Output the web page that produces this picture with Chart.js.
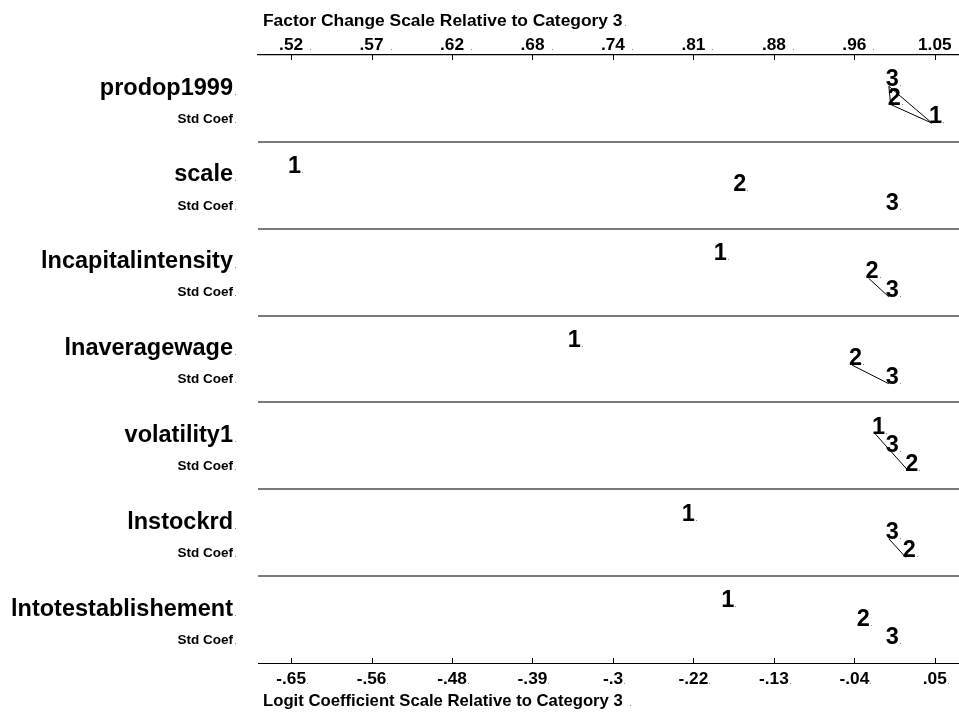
<!DOCTYPE html>
<html>
<head>
<meta charset="utf-8">
<script src="https://cdn.jsdelivr.net/npm/chart.js@4/dist/chart.umd.min.js"></script>
<style>
  html, body { margin: 0; padding: 0; background: #ffffff; }
  #wrap { width: 959px; height: 713px; }
</style>
</head>
<body>
<div id="wrap"><canvas id="chart" width="959" height="713"></canvas></div>
<script>
// Multinomial logit: standardized coefficients of each outcome relative to category 3
const variables = ['prodop1999', 'scale', 'lncapitalintensity', 'lnaveragewage',
                   'volatility1', 'lnstockrd', 'lntotestablishement'];
const categoryNames = ['1', '2', '3'];
const coefCat1 = [0.047, -0.650, -0.187, -0.346, -0.015, -0.222, -0.179];
const coefCat2 = [0.002, -0.166, -0.022, -0.040, 0.021, 0.0185, -0.0315];
const coefCat3 = [0, 0, 0, 0, 0, 0, 0];
// pairs of categories that are joined by a line (not significantly different)
const linkedPairs = [
  [['3', '1'], ['2', '1'], ['3', '2']],
  [],
  [['2', '3']],
  [['2', '3']],
  [['1', '2']],
  [['3', '2']],
  []
];
const logitTicks = [-0.65, -0.5625, -0.475, -0.3875, -0.3, -0.2125, -0.125, -0.0375, 0.05];
const logitTickLabels = ['-.65', '-.56', '-.48', '-.39', '-.3', '-.22', '-.13', '-.04', '.05'];
const factorTickLabels = ['.52', '.57', '.62', '.68', '.74', '.81', '.88', '.96', '1.05'];
const topTitle = 'Factor Change Scale Relative to Category 3';
const bottomTitle = 'Logit Coefficient Scale Relative to Category 3';
const rowSubLabel = 'Std Coef';

const coefs = [coefCat1, coefCat2, coefCat3];
const FONT = '"Liberation Sans", Arial, Helvetica, sans-serif';
// vertical slots inside a variable's band, ordered by coefficient value
const SLOT = [0.36, 0.57, 0.785];

function slotOf(cat, row) {
  const vals = coefs.map(c => c[row]);
  const rank = vals.filter((v, k) => v < vals[cat] || (v === vals[cat] && k > cat)).length;
  return SLOT[rank];
}

const datasets = [];
categoryNames.forEach((name, c) => {
  datasets.push({
    label: name,
    data: variables.map((v, i) => ({ x: coefs[c][i], y: i + slotOf(c, i) })),
    pointRadius: 0,
    pointHoverRadius: 0,
    showLine: false,
    glyph: name
  });
});
linkedPairs.forEach((pairs, i) => {
  pairs.forEach(([a, b]) => {
    const ca = categoryNames.indexOf(a), cb = categoryNames.indexOf(b);
    datasets.push({
      label: 'link',
      data: [
        { x: coefs[ca][i], y: i + slotOf(ca, i) },
        { x: coefs[cb][i], y: i + slotOf(cb, i) }
      ],
      showLine: true,
      borderColor: '#000000',
      borderWidth: 1,
      pointRadius: 0,
      pointHoverRadius: 0
    });
  });
});

function dotAfter(ctx, x, y) {
  ctx.save();
  ctx.fillStyle = '#8a8a8a';
  ctx.fillRect(Math.round(x), Math.round(y) - 1, 1, 1);
  ctx.restore();
}

const annotate = {
  id: 'annotate',
  afterDraw(chart) {
    const ctx = chart.ctx;
    const sx = chart.scales.x;
    const sy = chart.scales.y;
    const area = chart.chartArea;
    ctx.save();

    // inward tick marks on both axes
    ctx.strokeStyle = '#000000';
    ctx.lineWidth = 1;
    logitTicks.forEach(v => {
      const px = Math.round(sx.getPixelForValue(v)) + 0.5;
      ctx.beginPath();
      ctx.moveTo(px, area.top); ctx.lineTo(px, area.top + 5);
      ctx.moveTo(px, area.bottom); ctx.lineTo(px, area.bottom - 5);
      ctx.stroke();
    });

    // tick labels
    ctx.fillStyle = '#000000';
    ctx.font = 'bold 17.3px ' + FONT;
    ctx.textBaseline = 'alphabetic';
    ctx.textAlign = 'center';
    logitTicks.forEach((v, k) => {
      const px = sx.getPixelForValue(v);
      const t1 = factorTickLabels[k];
      const w1 = ctx.measureText(t1).width;
      ctx.fillText(t1, px, 50);
      dotAfter(ctx, px + w1 / 2 + 7, 50);
      const t2 = logitTickLabels[k];
      const w2 = ctx.measureText(t2).width;
      ctx.fillText(t2, px, 684);
      dotAfter(ctx, px + w2 / 2 + 1, 684);
    });

    // axis titles
    ctx.textAlign = 'left';
    ctx.font = 'bold 17.4px ' + FONT;
    ctx.fillText(topTitle, 263, 26);
    dotAfter(ctx, 263 + ctx.measureText(topTitle).width + 2, 26);
    ctx.font = 'bold 16.7px ' + FONT;
    ctx.fillText(bottomTitle, 263, 706);
    dotAfter(ctx, 263 + ctx.measureText(bottomTitle).width + 7, 706);

    // variable names and sub labels
    ctx.textAlign = 'right';
    variables.forEach((name, i) => {
      ctx.font = 'bold 23.5px ' + FONT;
      const yName = sy.getPixelForValue(i + 0.455);
      ctx.fillText(name, 233, yName);
      dotAfter(ctx, 235, yName);
      ctx.font = 'bold 13.5px ' + FONT;
      const ySub = sy.getPixelForValue(i + 0.78);
      ctx.fillText(rowSubLabel, 233, ySub);
      dotAfter(ctx, 235, ySub);
    });

    // category digits at each coefficient
    ctx.font = 'bold 23.5px ' + FONT;
    ctx.textAlign = 'left';
    chart.data.datasets.forEach((ds, d) => {
      if (!ds.glyph) return;
      chart.getDatasetMeta(d).data.forEach(pt => {
        const ox = pt.x - 3;
        ctx.fillText(ds.glyph, ox, pt.y);
        dotAfter(ctx, ox + ctx.measureText(ds.glyph).width + 1, pt.y);
      });
    });
    ctx.restore();
  }
};

new Chart(document.getElementById('chart'), {
  type: 'scatter',
  data: { datasets },
  options: {
    responsive: false,
    animation: false,
    devicePixelRatio: 1,
    layout: { padding: { left: 258, right: 0, top: 0, bottom: 0 } },
    plugins: { legend: { display: false }, tooltip: { enabled: false } },
    scales: {
      x: {
        type: 'linear',
        position: 'bottom',
        min: -0.686,
        max: 0.0763,
        afterBuildTicks: s => { s.ticks = logitTicks.map(v => ({ value: v })); },
        afterFit: s => { s.height = 50; },
        ticks: { display: false },
        grid: { display: false },
        border: { display: true, color: '#000000', width: 1 }
      },
      xTop: {
        type: 'linear',
        position: 'top',
        min: -0.686,
        max: 0.0763,
        afterBuildTicks: s => { s.ticks = logitTicks.map(v => ({ value: v })); },
        afterFit: s => { s.height = 55; },
        ticks: { display: false },
        grid: { display: false },
        border: { display: true, color: '#000000', width: 1.3 }
      },
      y: {
        type: 'linear',
        reverse: true,
        min: 0,
        max: variables.length,
        afterBuildTicks: s => { s.ticks = variables.map((v, i) => ({ value: i })).concat([{ value: variables.length }]); },
        afterFit: s => { s.width = 0; },
        ticks: { display: false },
        border: { display: false },
        grid: {
          drawTicks: false,
          color: c => (c.tick && c.tick.value > 0 && c.tick.value < variables.length) ? '#7a7a7a' : 'rgba(0,0,0,0)',
          lineWidth: 2
        }
      }
    }
  },
  plugins: [annotate]
});
</script>
</body>
</html>
